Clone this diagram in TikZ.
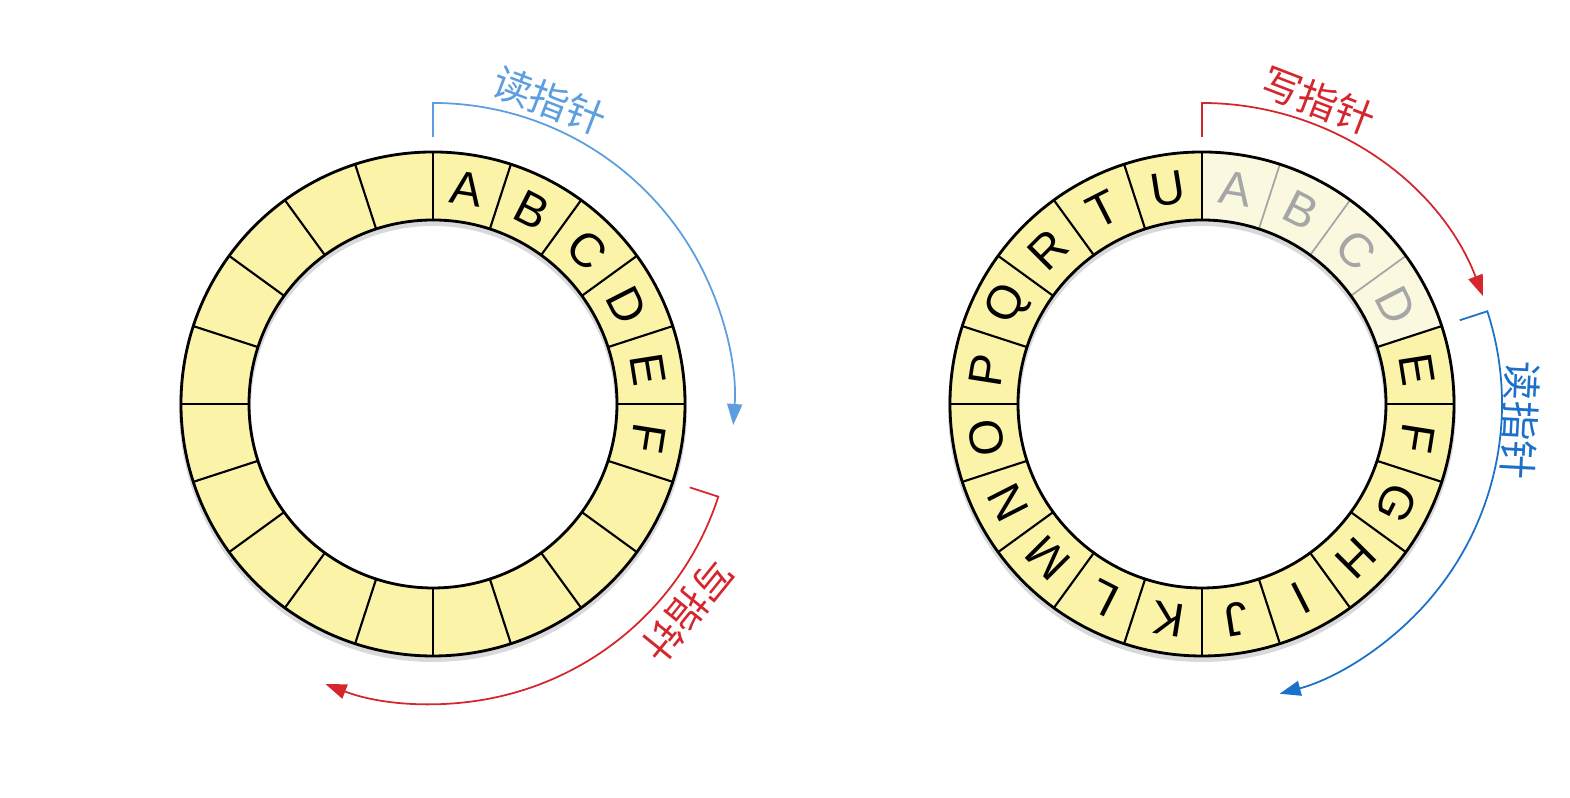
\documentclass[tikz,border=0pt]{standalone}
\usepackage{fontspec}
\setsansfont{Liberation Sans}
\newfontfamily\cjk{Noto Sans CJK SC}
\usepackage{xcolor}
\usetikzlibrary{arrows.meta, calc}

\definecolor{cellyellow}{RGB}{250,243,168}
\definecolor{cellfaded}{RGB}{250,248,222}
\definecolor{ptrred}{RGB}{212,38,44}
\definecolor{readblue}{RGB}{92,158,222}
\definecolor{readdark}{RGB}{28,112,200}

\begin{document}
\begin{tikzpicture}[>={Triangle[length=2.1mm, width=1.5mm]},
  every node/.style={font=\sffamily\fontsize{13.5}{14}\selectfont},
  ptrlabel/.style={font=\cjk\fontsize{11.2}{12}\selectfont},
  ptrline/.style={line width=0.5pt}]
  \useasboundingbox (0,0) rectangle (15.70,7.98);
  \coordinate (L) at (4.33,3.94);
  \coordinate (R) at (12.02,3.94);

  % ring shadows and fill
  \foreach \c in {L,R} {
    \fill[black, opacity=0.15, even odd rule] ($(\c)+(0,-0.04)$) circle (2.54) ($(\c)+(0,-0.04)$) circle (1.82);
    \fill[cellyellow, even odd rule] (\c) circle (2.52) (\c) circle (1.84);
  }
  % read-out cells on the right ring
  \fill[cellfaded] ($(R)+(90:2.52)$) arc (90:18:2.52) -- ($(R)+(18:1.84)$) arc (18:90:1.84) -- cycle;

  % cell borders
  \foreach \a in {0,18,...,342}
    \draw[line width=0.6pt] ($(L)+(\a:1.84)$) -- ($(L)+(\a:2.52)$);
  \foreach \a in {0,18,90,108,...,342}
    \draw[line width=0.6pt] ($(R)+(\a:1.84)$) -- ($(R)+(\a:2.52)$);
  \foreach \a in {36,54,72}
    \draw[black!35, line width=0.5pt] ($(R)+(\a:1.84)$) -- ($(R)+(\a:2.52)$);
  \foreach \c in {L,R}
    \draw[line width=0.8pt] (\c) circle (2.52) (\c) circle (1.84);

  % letters
  \foreach \t [count=\i from 0] in {A,B,C,D,E,F}
    \node[rotate=-9-18*\i] (l-\i) at ($(L)+(81-18*\i:2.18)$) {\t};
  \foreach \t [count=\i from 0] in {A,B,C,D}
    \node[black!35, rotate=-9-18*\i] (r-\i) at ($(R)+(81-18*\i:2.18)$) {\t};
  \foreach \t [count=\i from 4] in {E,F,G,H,I,J,K,L,M,N,O,P,Q,R,T,U}
    \node[rotate=-9-18*\i] (r-\i) at ($(R)+(81-18*\i:2.18)$) {\t};

  % left pointers
  \coordinate (lr0) at ($(L)+(90:2.67)$);
  \coordinate (lr1) at ($(L)+(90:3.01)$);
  \draw[ptrline, readblue, ->] (lr0) -- (lr1) arc (90:-4:3.01);
  \node[ptrlabel, readblue, rotate=-21] (lread) at ($(L)+(69:3.25)$) {读指针};
  \coordinate (lw0) at ($(L)+(-18:2.70)$);
  \coordinate (lw1) at ($(L)+(-18:3.00)$);
  \draw[ptrline, ptrred, ->] (lw0) -- (lw1) arc (-18:-111:3.00);
  \node[ptrlabel, ptrred, rotate=-129] (lwrite) at ($(L)+(-39:3.28)$) {写指针};

  % right pointers
  \coordinate (rw0) at ($(R)+(90:2.67)$);
  \coordinate (rw1) at ($(R)+(90:3.01)$);
  \draw[ptrline, ptrred, ->] (rw0) -- (rw1) arc (90:21:3.01);
  \node[ptrlabel, ptrred, rotate=-21] (rwrite) at ($(R)+(69:3.25)$) {写指针};
  \coordinate (rr0) at ($(R)+(18:2.71)$);
  \coordinate (rr1) at ($(R)+(18:3.00)$);
  \draw[ptrline, readdark, ->] (rr0) -- (rr1) arc (18:-75:3.00);
  \node[ptrlabel, readdark, rotate=-93] (rread) at ($(R)+(-3:3.19)$) {读指针};
\end{tikzpicture}
\end{document}
